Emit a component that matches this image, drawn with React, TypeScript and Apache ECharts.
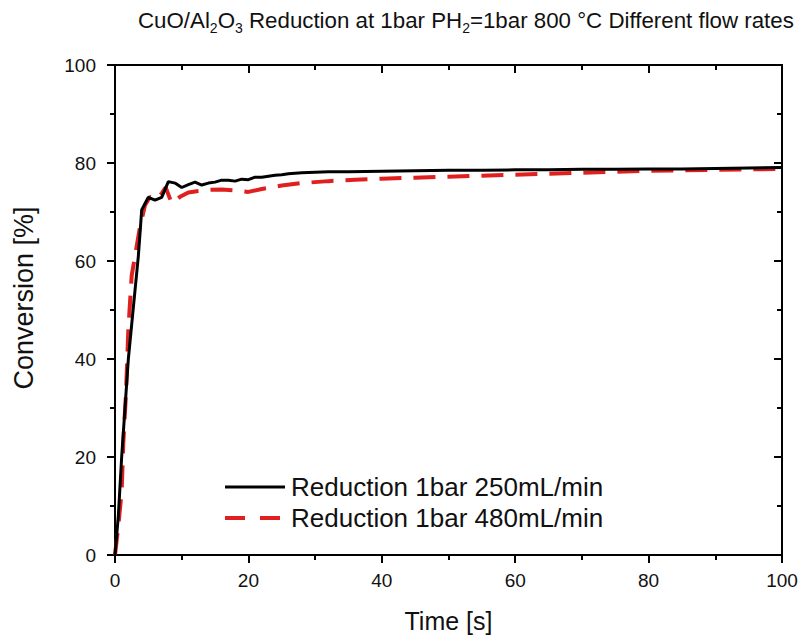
import React, { useEffect, useRef } from "react";
import * as echarts from "echarts";

const timeA = [0, 0.5, 1, 1.5, 2, 2.5, 3, 3.5, 4, 5, 6, 7, 8, 9, 10, 11, 12, 13, 14, 15, 16, 17, 18, 19, 20, 21, 22, 23, 24, 25, 26, 27, 28, 30, 32, 35, 40, 45, 50, 55, 60, 65, 70, 75, 80, 85, 90, 95, 100];
const conv250 = [0, 8, 20, 30, 40, 47, 54, 61, 70.4, 73.0, 72.4, 73.0, 76.2, 75.9, 75.0, 75.6, 76.1, 75.5, 75.9, 76.1, 76.5, 76.5, 76.3, 76.7, 76.6, 77.1, 77.1, 77.3, 77.5, 77.6, 77.8, 77.9, 78.0, 78.1, 78.2, 78.2, 78.3, 78.4, 78.5, 78.5, 78.6, 78.6, 78.7, 78.7, 78.8, 78.8, 78.9, 79.0, 79.1];

const timeB = [0, 0.5, 1, 1.25, 1.65, 2, 2.5, 3, 3.75, 4.5, 5.25, 6, 7, 7.6, 8.5, 9.75, 11, 12.5, 14, 16, 18, 20, 22, 25, 28, 32, 36, 40, 45, 50, 55, 60, 65, 70, 75, 80, 85, 90, 95, 100];
const conv480 = [0, 6, 13, 23, 33, 46, 57, 61, 67, 71.4, 73.1, 72.6, 73.8, 75.0, 71.8, 73.1, 74.0, 74.3, 74.5, 74.6, 74.4, 74.1, 74.7, 75.4, 75.9, 76.3, 76.6, 76.8, 77.0, 77.2, 77.4, 77.6, 77.8, 78.0, 78.2, 78.4, 78.5, 78.6, 78.7, 78.8];

const seriesNames = ["Reduction 1bar 250mL/min", "Reduction 1bar 480mL/min"];
const axisMin = 0;
const axisMax = 100;
const axisInterval = 20;

const FONT = "'Liberation Sans', Arial, sans-serif";
const RED = "#e0201e";

export default function App() {
  const ref = useRef<HTMLDivElement>(null);
  useEffect(() => {
    if (!ref.current) return;
    const chart = echarts.init(ref.current, undefined, { renderer: "svg" });
    const dataA = timeA.map((t, i) => [t, conv250[i]]);
    const dataB = timeB.map((t, i) => [t, conv480[i]]);
    const axisLine = { show: true, onZero: false, lineStyle: { color: "#000", width: 2 } };
    const tickStyle = { color: "#000", width: 2 };
    const baseAxis = {
      type: "value",
      min: axisMin,
      max: axisMax,
      interval: axisInterval,
      splitLine: { show: false },
      axisLine,
    };
    chart.setOption({
      animation: false,
      backgroundColor: "#fff",
      title: {
        left: 133,
        top: 0,
        text: "{m|CuO/Al}{s|2}{m|O}{s|3}{m| Reduction at 1bar PH}{s|2}{m|=1bar 800 °C Different flow rates}",
        textStyle: {
          fontWeight: "normal",
          rich: {
            m: { fontFamily: FONT, fontSize: 22.3, fontWeight: "normal", color: "#111", lineHeight: 30 },
            s: { fontFamily: FONT, fontSize: 14, fontWeight: "normal", color: "#111", lineHeight: 14, verticalAlign: "bottom" },
          },
        },
      },
      grid: { left: 115, right: 17, top: 65, bottom: 80, outerBoundsMode: "none", containLabel: false },
      legend: {
        orient: "vertical",
        left: 223,
        top: 474,
        padding: 0,
        itemWidth: 60,
        itemHeight: 14,
        itemGap: 5,
        itemStyle: { opacity: 0 },
        textStyle: { fontFamily: FONT, fontSize: 26, color: "#111", padding: [0, 0, 0, 1] },
        data: [
          { name: seriesNames[0], lineStyle: { color: "#000", width: 3 } },
          { name: seriesNames[1], lineStyle: { color: RED, width: 4, type: [20, 15] } },
        ],
      },
      xAxis: [
        {
          ...baseAxis,
          position: "bottom",
          name: "Time [s]",
          nameLocation: "middle",
          nameGap: 53,
          nameTextStyle: { fontFamily: FONT, fontSize: 25, color: "#111" },
          axisTick: { show: true, inside: false, length: 8, lineStyle: tickStyle },
          minorTick: { show: true, splitNumber: 2, length: 5, lineStyle: tickStyle },
          axisLabel: { fontFamily: FONT, fontSize: 19, color: "#111", margin: 16 },
        },
        {
          ...baseAxis,
          position: "top",
          axisTick: { show: true, inside: true, length: 8, lineStyle: tickStyle },
          minorTick: { show: true, splitNumber: 2, length: 5, lineStyle: tickStyle },
          axisLabel: { show: false },
        },
      ],
      yAxis: [
        {
          ...baseAxis,
          position: "left",
          name: "Conversion [%]",
          nameLocation: "middle",
          nameGap: 78,
          nameTextStyle: { fontFamily: FONT, fontSize: 27, color: "#111", padding: [0, 0, 0, 24] },
          axisTick: { show: true, inside: false, length: 8, lineStyle: tickStyle },
          minorTick: { show: true, splitNumber: 2, length: 5, lineStyle: tickStyle },
          axisLabel: { fontFamily: FONT, fontSize: 19, color: "#111", margin: 19 },
        },
        {
          ...baseAxis,
          position: "right",
          axisTick: { show: true, inside: true, length: 8, lineStyle: tickStyle },
          minorTick: { show: true, splitNumber: 2, length: 5, lineStyle: tickStyle },
          axisLabel: { show: false },
        },
      ],
      series: [
        {
          name: seriesNames[0],
          type: "line",
          data: dataA,
          symbol: "none",
          showSymbol: false,
          color: "#000",
          lineStyle: { color: "#000", width: 3 },
          z: 3,
        },
        {
          name: seriesNames[1],
          type: "line",
          data: dataB,
          symbol: "none",
          showSymbol: false,
          color: RED,
          lineStyle: { color: RED, width: 4, type: [22, 12] },
          z: 2,
        },
      ],
    });
    return () => chart.dispose();
  }, []);
  return (
    <div
      ref={ref}
      style={{ position: "fixed", left: 0, top: 0, width: 799, height: 635, background: "#fff" }}
    />
  );
}
